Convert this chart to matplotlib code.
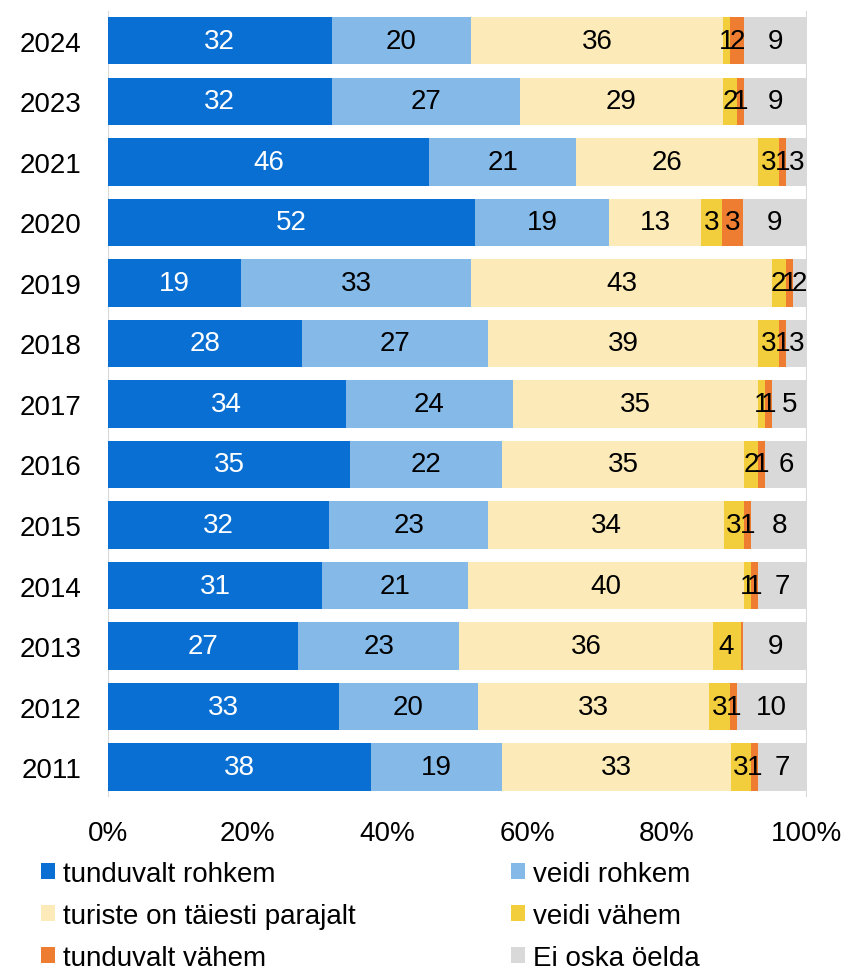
import numpy as np
import matplotlib.pyplot as plt
from matplotlib.patches import Patch

plt.rcParams['font.family'] = ['Liberation Sans', 'DejaVu Sans']

# Andmed (ülevalt alla)
aastad = ["2024", "2023", "2021", "2020", "2019", "2018", "2017",
          "2016", "2015", "2014", "2013", "2012", "2011"]
tunduvalt_rohkem = [32, 32, 46, 52, 19, 28, 34, 35, 32, 31, 27, 33, 38]
veidi_rohkem = [20, 27, 21, 19, 33, 27, 24, 22, 23, 21, 23, 20, 19]
parajalt = [36, 29, 26, 13, 43, 39, 35, 35, 34, 40, 36, 33, 33]
veidi_vahem = [1, 2, 3, 3, 2, 3, 1, 2, 3, 1, 4, 3, 3]
tunduvalt_vahem = [2, 1, 1, 3, 1, 1, 1, 1, 1, 1, 0.4, 1, 1]
ei_oska = [9, 9, 3, 9, 2, 3, 5, 6, 8, 7, 9, 10, 7]

seeriad = ["tunduvalt rohkem", "veidi rohkem", "turiste on täiesti parajalt",
           "veidi vähem", "tunduvalt vähem", "Ei oska öelda"]
varvid = ["#0A6FD2", "#85B9E8", "#FCEBB9", "#F2CD3C", "#EE7D31", "#D9D9D9"]
teksti_varv = ["white", "black", "black", "black", "black", "black"]

andmed = np.array([tunduvalt_rohkem, veidi_rohkem, parajalt,
                   veidi_vahem, tunduvalt_vahem, ei_oska], dtype=float)
# 100% tulpdiagramm
protsent = andmed / andmed.sum(axis=0) * 100

fig = plt.figure(figsize=(8.43, 9.70), dpi=100)
ax = fig.add_axes([0.128, 0.177, 0.829, 0.811])

y = np.arange(len(aastad))
vasak = np.zeros(len(aastad))
for i in range(len(seeriad)):
    ax.barh(y, protsent[i], left=vasak, height=0.78, color=varvid[i],
            edgecolor="none", zorder=2)
    for j in range(len(aastad)):
        v = andmed[i, j]
        if round(v) == 0:
            continue
        ax.text(vasak[j] + protsent[i, j] / 2, y[j], f"{v:.0f}",
                ha="center", va="center", fontsize=20,
                color=teksti_varv[i], zorder=3)
    vasak += protsent[i]

ax.set_xlim(0, 100)
ax.set_ylim(len(aastad) - 0.5, -0.5)
ax.set_yticks(y)
ax.set_yticklabels(aastad, fontsize=20)
ax.set_xticks(np.arange(0, 101, 20))
ax.set_xticklabels([f"{t}%" for t in range(0, 101, 20)], fontsize=20)
ax.tick_params(length=0)
ax.tick_params(axis="y", pad=19)
ax.tick_params(axis="x", pad=16)
for s in ax.spines.values():
    s.set_visible(False)
ax.axvline(0, color="#D9D9D9", lw=1.5, zorder=1)
ax.axvline(100, color="#D9D9D9", lw=1.5, zorder=1)

# legend: read row-wise, so order columns accordingly
jarjekord = [0, 2, 4, 1, 3, 5]
kasitsejad = [Patch(facecolor=varvid[k], edgecolor="none") for k in jarjekord]
fig.legend(kasitsejad, [seeriad[k] for k in jarjekord], ncol=2,
           loc="upper left", bbox_to_anchor=(0.032, 0.126), frameon=False,
           fontsize=20, handlelength=0.5, handleheight=0.5, handletextpad=0.3,
           columnspacing=5.6, labelspacing=0.58, borderpad=0)

fig.savefig("out.png", dpi=100)
